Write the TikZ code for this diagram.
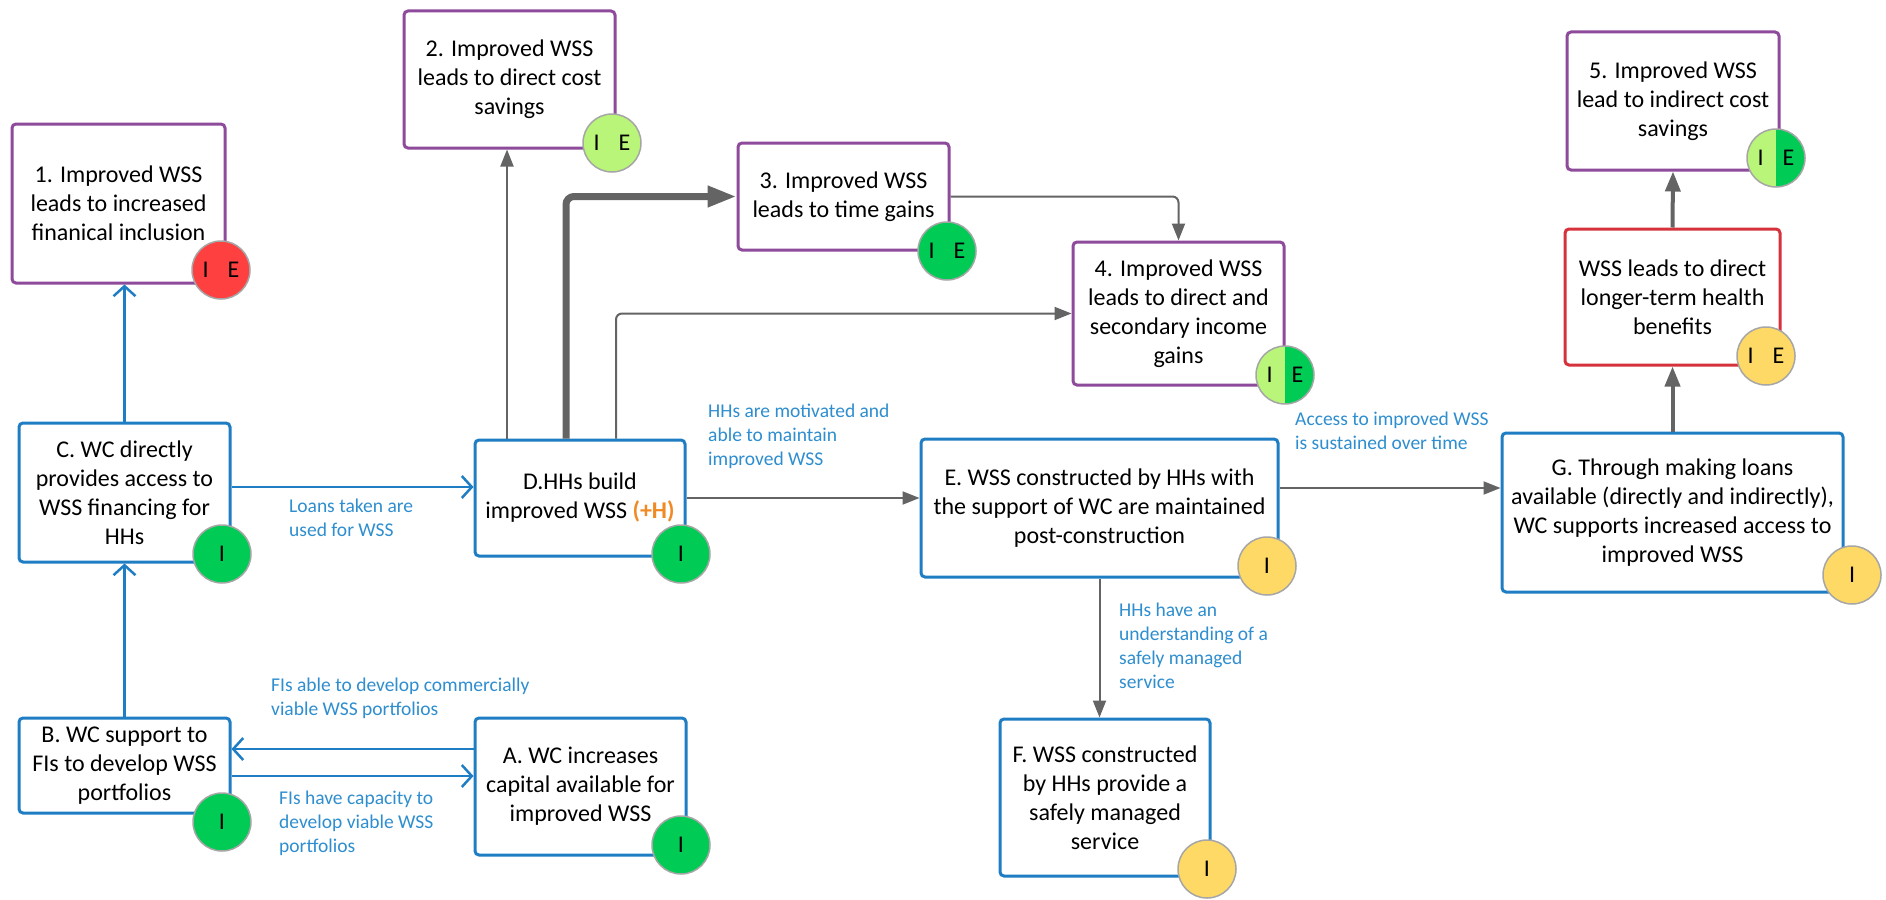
\documentclass[tikz,border=0pt]{standalone}
\usepackage{fontspec}
\setmainfont{Carlito}
\usetikzlibrary{arrows.meta,calc}
\definecolor{purp}{RGB}{142,75,155}
\definecolor{bbox}{RGB}{31,125,195}
\definecolor{rbox}{RGB}{214,50,60}
\definecolor{conn}{RGB}{100,100,100}
\definecolor{lbl}{RGB}{46,142,207}
\definecolor{orng}{RGB}{240,138,36}
\definecolor{cred}{RGB}{255,64,64}
\definecolor{clg}{RGB}{185,245,120}
\definecolor{cgr}{RGB}{0,204,85}
\definecolor{cyl}{RGB}{255,217,102}
\begin{document}
\begin{tikzpicture}[x=1pt,y=-1pt,
 box/.style={draw, line width=3pt, rounded corners=4pt, fill=white, align=center, font=\fontsize{24}{29}\selectfont, inner sep=0pt},
 pbox/.style={box, draw=purp},
 bbx/.style={box, draw=bbox},
 rbx/.style={box, draw=rbox},
 dot/.style={circle, draw=black!35, line width=1.5pt, minimum size=58pt, inner sep=0pt, font=\fontsize{24}{29}\selectfont},
 splitdot/.style={dot, fill=clg, path picture={\fill[cgr] (path picture bounding box.north) rectangle (path picture bounding box.south east);}},
 lab/.style={text=lbl, align=left, anchor=north west, inner sep=0pt, font=\fontsize{19.5}{24}\selectfont},
 garrow/.style={draw=conn, line width=2pt, -{Triangle[length=17pt,width=13pt]}},
 harrow/.style={draw=conn, line width=4pt, -{Triangle[length=20pt,width=15pt]}},
 tarrow/.style={draw=conn, line width=7pt, rounded corners=8pt, -{Triangle[length=29pt,width=20pt]}},
 barrow/.style={draw=bbox, line width=2.5pt, -{Straight Barb[length=10pt,width=22pt]}},
]
\fill[white] (0,0) rectangle (1886,899);
\useasboundingbox (0,0) rectangle (1886,899);

% boxes
\node[pbox, minimum width=213pt, minimum height=159pt] (b1) at (118.5,203.5) {1. Improved WSS\\leads to increased\\finanical inclusion};
\node[pbox, minimum width=211pt, minimum height=137pt] (b2) at (509.5,79.5) {2. Improved WSS\\leads to direct cost\\savings};
\node[pbox, minimum width=211pt, minimum height=107pt] (b3) at (843.5,196.5) {3. Improved WSS\\leads to time gains};
\node[pbox, minimum width=211pt, minimum height=143pt] (b4) at (1178.5,313.5) {4. Improved WSS\\leads to direct and\\secondary income\\gains};
\node[pbox, minimum width=212pt, minimum height=138pt] (b5) at (1673,101) {5. Improved WSS\\lead to indirect cost\\savings};
\node[rbx, minimum width=215pt, minimum height=136pt] (bH) at (1672.5,297) {WSS leads to direct\\longer-term health\\benefits};
\node[bbx, minimum width=341pt, minimum height=159pt] (G) at (1672.5,512.5) {G. Through making loans\\available (directly and indirectly),\\WC supports increased access to\\improved WSS};
\node[bbx, minimum width=357pt, minimum height=138pt] (E) at (1099.5,508) {E. WSS constructed by HHs with\\the support of WC are maintained\\post-construction};
\node[bbx, minimum width=210pt, minimum height=157pt] (F) at (1105,797.5) {F. WSS constructed\\by HHs provide a\\safely managed\\service};
\node[bbx, minimum width=210pt, minimum height=116pt] (D) at (580,498) {D.HHs build\\improved WSS \textcolor{orng}{\textbf{(+H)}}};
\node[bbx, minimum width=211pt, minimum height=139pt] (C) at (124.5,492.5) {C. WC directly\\provides access to\\WSS financing for\\HHs};
\node[bbx, minimum width=211pt, minimum height=95pt] (B) at (124.5,765.5) {B. WC support to\\FIs to develop WSS\\portfolios};
\node[bbx, minimum width=211pt, minimum height=137pt] (A) at (580.5,786.5) {A. WC increases\\capital available for\\improved WSS};

% connectors
\draw[barrow] (C.north) -- (C.north |- b1.south);
\draw[barrow] (B.north) -- (C.south);
\draw[barrow] (C.east |- 0,487) -- (D.west |- 0,487);
\draw[barrow] (A.west |- 0,749) -- (B.east |- 0,749);
\draw[barrow] (B.east |- 0,776) -- (A.west |- 0,776);
\draw[garrow] (D.north -| 507,0) -- (b2.south -| 507,0);
\draw[tarrow] (D.north -| 566,0) |- (b3.west);
\draw[garrow, rounded corners=6pt] (D.north -| 616,0) |- (b4.west);
\draw[garrow, rounded corners=6pt] (b3.east) -| (b4.north);
\draw[garrow] (D.east) -- (D.east -| E.west);
\draw[garrow] (E.east |- 0,488) -- (G.west |- 0,488);
\draw[garrow] (E.south) -- (E.south |- F.north);
\draw[harrow] (G.north) -- (bH.south);
\draw[harrow] (bH.north) -- (b5.south);

% labels
\node[lab] (l1) at (289,499) {Loans taken are\\used for WSS};
\node[lab] (l2) at (271,678) {FIs able to develop commercially\\viable WSS portfolios};
\node[lab] (l3) at (279,791) {FIs have capacity to\\develop viable WSS\\portfolios};
\node[lab] (l4) at (708,404) {HHs are motivated and\\able to maintain\\improved WSS};
\node[lab] (l5) at (1295,412) {Access to improved WSS\\is sustained over time};
\node[lab] (l6) at (1119,603) {HHs have an\\understanding of a\\safely managed\\service};

% rating circles
\node[dot, fill=cred] (c1) at (221,270) {I\hspace{19pt}E};
\node[dot, fill=clg] (c2) at (612,143) {I\hspace{19pt}E};
\node[dot, fill=cgr] (c3) at (947,251) {I\hspace{19pt}E};
\node[splitdot] (c4) at (1285,375) {I\hspace{19pt}E};
\node[splitdot] (c5) at (1776,158) {I\hspace{19pt}E};
\node[dot, fill=cyl] (cH) at (1766,356) {I\hspace{19pt}E};
\node[dot, fill=cgr] (cC) at (222,554) {I};
\node[dot, fill=cgr] (cD) at (681,554) {I};
\node[dot, fill=cyl] (cE) at (1267,566) {I};
\node[dot, fill=cyl] (cG) at (1852,575) {I};
\node[dot, fill=cgr] (cB) at (222,822) {I};
\node[dot, fill=cgr] (cA) at (681,845) {I};
\node[dot, fill=cyl] (cF) at (1207,869) {I};
\end{tikzpicture}
\end{document}
